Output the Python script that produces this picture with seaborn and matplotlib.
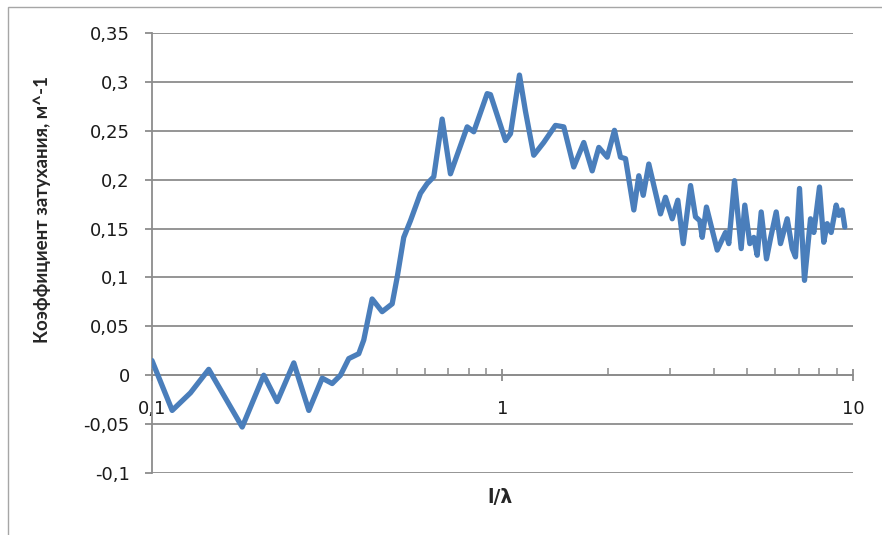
import matplotlib
matplotlib.use('Agg')
import matplotlib.pyplot as plt
import matplotlib.ticker as mticker
from matplotlib.patches import Rectangle
import seaborn as sns
import pandas as pd

# values (l/lambda, attenuation coefficient)
l_lambda = [0.100, 0.1142, 0.1288, 0.1452, 0.1809, 0.2084, 0.2276, 0.2539, 0.2802, 0.3060,
            0.3267, 0.3450, 0.3643, 0.3890, 0.4020, 0.4248, 0.4536, 0.4845, 0.5006, 0.5228,
            0.5463, 0.5834, 0.6097, 0.6368, 0.6729, 0.7105, 0.7931, 0.8281, 0.9043, 0.9242,
            1.020, 1.054, 1.118, 1.163, 1.228, 1.311, 1.416, 1.496, 1.597, 1.706,
            1.803, 1.883, 1.990, 2.087, 2.171, 2.244, 2.370, 2.449, 2.521, 2.615,
            2.824, 2.918, 3.050, 3.164, 3.279, 3.440, 3.554, 3.656, 3.714, 3.819,
            4.099, 4.328, 4.423, 4.592, 4.798, 4.913, 5.078, 5.212, 5.330, 5.472,
            5.666, 5.816, 6.039, 6.212, 6.492, 6.708, 6.855, 7.038, 7.272, 7.565,
            7.732, 8.025, 8.254, 8.441, 8.665, 8.955, 9.110, 9.316, 9.476]
attenuation = [0.015, -0.036, -0.018, 0.006, -0.053, 0.000, -0.027, 0.0126, -0.036, -0.003,
               -0.0085, 0.000, 0.017, 0.022, 0.036, 0.078, 0.065, 0.073, 0.100, 0.141,
               0.158, 0.186, 0.196, 0.203, 0.262, 0.206, 0.254, 0.249, 0.288, 0.287,
               0.240, 0.247, 0.307, 0.270, 0.225, 0.238, 0.2555, 0.254, 0.213, 0.238,
               0.209, 0.233, 0.223, 0.2505, 0.223, 0.2215, 0.169, 0.204, 0.184, 0.216,
               0.165, 0.182, 0.160, 0.179, 0.1346, 0.194, 0.162, 0.158, 0.141, 0.172,
               0.128, 0.146, 0.1346, 0.199, 0.1295, 0.174, 0.1346, 0.141, 0.1227, 0.167,
               0.119, 0.1397, 0.167, 0.1346, 0.160, 0.1295, 0.121, 0.191, 0.097, 0.160,
               0.146, 0.1925, 0.136, 0.155, 0.146, 0.174, 0.1635, 0.169, 0.1516]

y_ticks = [-0.1, -0.05, 0, 0.05, 0.1, 0.15, 0.2, 0.25, 0.3, 0.35]
y_tick_labels = ['-0,1', '-0,05', '0', '0,05', '0,1', '0,15', '0,2', '0,25', '0,3', '0,35']
x_ticks = [0.1, 1, 10]
x_tick_labels = ['0,1', '1', '10']

df = pd.DataFrame({'x': l_lambda, 'y': attenuation})

sns.set_style('white')
plt.rcParams['font.family'] = ['DejaVu Sans']

fig = plt.figure(figsize=(8.82, 5.35), dpi=100)
ax = fig.add_axes([0.1723, 0.1159, 0.7948, 0.8224])

grid_col = '#8c8c8c'
line_col = '#4a7ebb'

sns.lineplot(data=df, x='x', y='y', ax=ax, color=line_col, linewidth=3.8,
             solid_joinstyle='round', solid_capstyle='round', zorder=3)

ax.set_xscale('log')
ax.set_xlim(0.1, 10)
ax.set_ylim(-0.1, 0.35)

ax.set_yticks(y_ticks)
ax.set_yticklabels(y_tick_labels)
ax.set_xticks(x_ticks)
ax.set_xticklabels(x_tick_labels)
ax.xaxis.set_minor_locator(mticker.LogLocator(base=10, subs=range(2, 10)))
ax.xaxis.set_minor_formatter(mticker.NullFormatter())

for y in y_ticks:
    ax.axhline(y, color=grid_col, linewidth=1.3, zorder=1)

for s in ['top', 'right']:
    ax.spines[s].set_visible(False)
ax.spines['bottom'].set_position(('data', 0))
ax.spines['bottom'].set_color(grid_col)
ax.spines['left'].set_color(grid_col)
ax.spines['bottom'].set_linewidth(1.3)
ax.spines['left'].set_linewidth(1.3)
ax.spines['bottom'].set_zorder(2)

ax.tick_params(axis='y', which='major', direction='out', length=5, width=1.3,
               color=grid_col, pad=11, labelsize=13, labelcolor='#1a1a1a', left=True)
ax.tick_params(axis='x', which='major', direction='inout', length=9, width=1.3,
               color=grid_col, pad=13, labelsize=13, labelcolor='#1a1a1a', bottom=True)
ax.tick_params(axis='x', which='minor', direction='in', length=5, width=1.1,
               color=grid_col, bottom=True)

ax.set_xlabel('l/λ', fontsize=13.5, fontweight='bold')
ax.set_ylabel('Коэффициент затухания, м^-1', fontsize=13.5, fontweight='bold',
              family=['Lato', 'DejaVu Sans'])
ax.xaxis.set_label_coords(0.4964, -0.035)
ax.yaxis.set_label_coords(-0.144, 0.598)

# chart area border (cropped at right and bottom in the reference)
fig.patches.append(Rectangle((8 / 882, -0.2), 1.5, 1.2 - 7 / 535, transform=fig.transFigure,
                             fill=False, edgecolor='#a6a6a6', linewidth=1.0))

fig.savefig('out.png', dpi=100)
